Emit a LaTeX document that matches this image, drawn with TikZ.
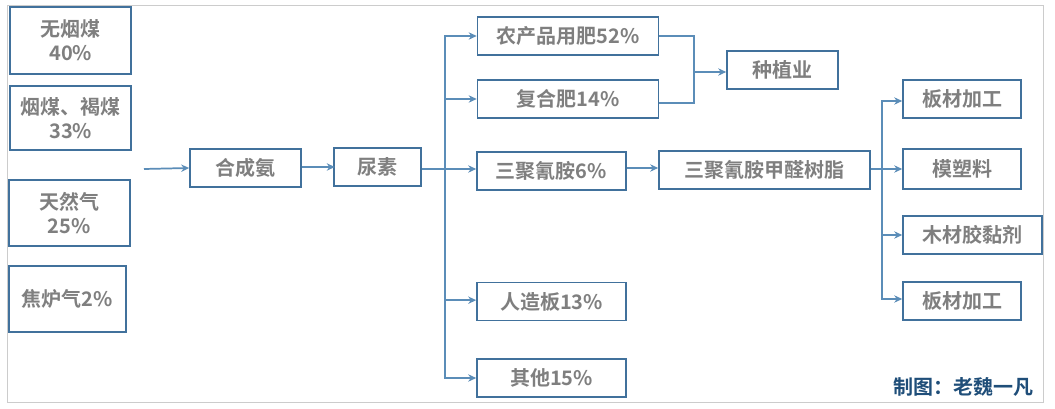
\documentclass[tikz,border=0pt]{standalone}
\usepackage{fontspec}
\setmainfont{Noto Sans CJK SC}[BoldFont={Noto Sans CJK SC Bold}]
\usetikzlibrary{arrows.meta}
\definecolor{boxblue}{HTML}{41719C}
\definecolor{linkblue}{HTML}{5B8DB8}
\definecolor{textgray}{HTML}{7F7F7F}
\definecolor{creditblue}{HTML}{1F4E79}
\tikzset{
    box/.style={draw=boxblue, line width=1.2pt, inner sep=0pt, align=center,
        text=textgray, font=\fontsize{15pt}{18pt}\selectfont\bfseries},
    wd/.style={minimum width=#1*0.75pt},
    ht/.style={minimum height=#1*0.75pt},
    link/.style={draw=linkblue, line width=1.3pt},
    flow/.style={link, -{Stealth[length=6pt,width=5.5pt]}}
}
\begin{document}
\begin{tikzpicture}[x=0.75pt,y=-0.75pt]
    \useasboundingbox (0,0) rectangle (1055,409);
    \fill[white] (0,0) rectangle (1055,409);
    \draw[black!20, line width=0.8pt] (7.5,5.5) rectangle (1043.5,402.5);

    % raw materials
    \node[box, wd=121, ht=67] (anthracite) at (70.75,40.5) {无烟煤\\40\%};
    \node[box, wd=121, ht=64] (bituminous) at (70.75,118) {烟煤、褐煤\\33\%};
    \node[box, wd=121, ht=66] (gas) at (69.25,213) {天然气\\25\%};
    \node[box, wd=117, ht=66] (coke) at (67.5,299) {焦炉气2\%};

    \node[box, wd=111, ht=38] (ammonia) at (245.5,168) {合成氨};
    \node[box, wd=87, ht=38] (urea) at (377.5,166.75) {尿素};

    % urea uses
    \node[box, wd=181, ht=38] (farm) at (568,36) {农产品用肥52\%};
    \node[box, wd=181, ht=38] (compound) at (568,99) {复合肥14\%};
    \node[box, wd=149, ht=38] (melamine) at (551.5,171) {三聚氰胺6\%};
    \node[box, wd=149, ht=38] (board) at (551.5,301.5) {人造板13\%};
    \node[box, wd=149, ht=38] (others) at (551.5,378) {其他15\%};

    \node[box, wd=111, ht=38] (planting) at (782.5,70) {种植业};
    \node[box, wd=211, ht=38] (resin) at (764.5,169.75) {三聚氰胺甲醛树脂};

    % resin uses
    \node[box, wd=118, ht=38] (panelA) at (962,99) {板材加工};
    \node[box, wd=118, ht=40] (moulding) at (962,169) {模塑料};
    \node[box, wd=139, ht=38] (adhesive) at (972.5,235) {木材胶黏剂};
    \node[box, wd=118, ht=38] (panelB) at (962,301) {板材加工};

    \node[text=creditblue, font=\fontsize{15pt}{18pt}\selectfont\bfseries, anchor=east] (credit) at (1038,387) {制图：老魏一凡};

    \coordinate (feed) at (144,169);
    \coordinate (ureajoin) at (445,169);
    \coordinate (farmjoin) at (694,72);
    \coordinate (resinjoin) at (882,169);
    \coordinate (resinfeed) at (643,168);

    \draw[flow] (feed) -- (ammonia.west);
    \draw[flow] (ammonia.east) ++(0,-1) -- ++(33,0);
    \draw[link] (urea.east |- ureajoin) -- (ureajoin);
    \draw[flow] (ureajoin) |- (farm.west);
    \draw[flow] (ureajoin) |- (compound.west);
    \draw[flow] (ureajoin) -- (melamine.west |- ureajoin);
    \draw[flow] (ureajoin) |- ([yshift=1pt]board.west);
    \draw[flow] (ureajoin) |- (others.west);

    \draw[link] (farm.east) -| (farmjoin);
    \draw[link] (compound.east) ++(0,4) -| (farmjoin);
    \draw[flow] (farmjoin) -- (planting.west |- farmjoin);
    \draw[flow] (melamine.east |- resinfeed) -- (resin.west |- resinfeed);

    \draw[link] (resin.east |- resinjoin) -- (resinjoin);
    \draw[flow] (resinjoin) |- ([yshift=-1.5pt]panelA.west);
    \draw[flow] (resinjoin) -- (moulding.west);
    \draw[flow] (resinjoin) |- (adhesive.west);
    \draw[flow] (resinjoin) |- ([yshift=1.5pt]panelB.west);
\end{tikzpicture}
\end{document}
